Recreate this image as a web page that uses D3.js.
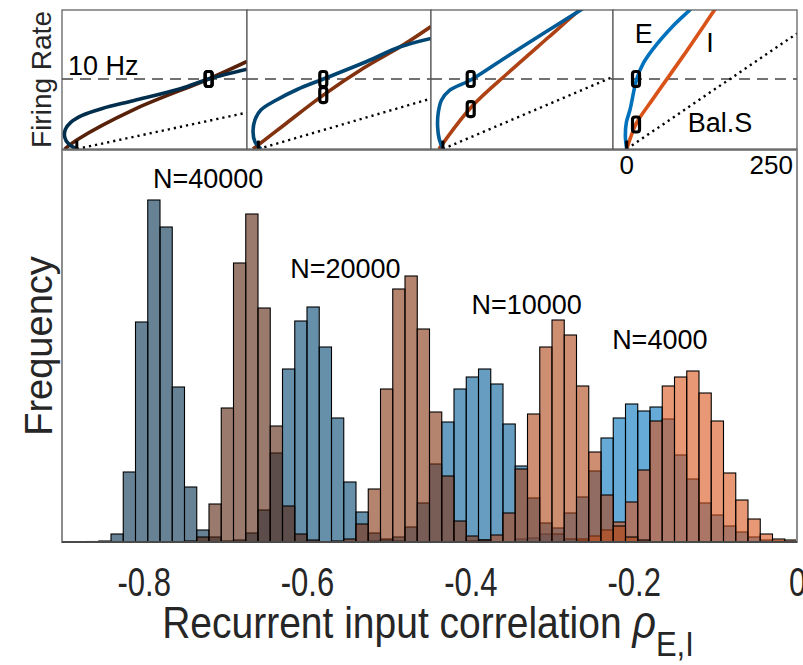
<!DOCTYPE html>
<html>
<head>
<meta charset="utf-8">
<script src="https://cdn.jsdelivr.net/npm/d3@7/dist/d3.min.js"></script>
<style>
  body { margin: 0; background: #fff; }
  text { font-family: "Liberation Sans", Arial, Helvetica, sans-serif; fill: #262626; }
</style>
</head>
<body>
<svg id="chart" width="803" height="665"></svg>
<script>

////////////////////////// DATA //////////////////////////

// histogram bins (left edges, width 0.015)
const binWidth = 0.015
const binLeft = [
  -0.9, -0.885, -0.87, -0.855, -0.84, -0.825, -0.81, -0.795, -0.78, -0.765,
  -0.75, -0.735, -0.72, -0.705, -0.69, -0.675, -0.66, -0.645, -0.63, -0.615,
  -0.6, -0.585, -0.57, -0.555, -0.54, -0.525, -0.51, -0.495, -0.48, -0.465,
  -0.45, -0.435, -0.42, -0.405, -0.39, -0.375, -0.36, -0.345, -0.33, -0.315,
  -0.3, -0.285, -0.27, -0.255, -0.24, -0.225, -0.21, -0.195, -0.18, -0.165,
  -0.15, -0.135, -0.12, -0.105, -0.09, -0.075, -0.06, -0.045, -0.03, -0.015
]

// counts per bin, E (blue) and I (orange) for each network size
const countE40000 = [
  0, 0, 0.5, 1, 8, 70, 220, 342, 315, 155,
  55, 12, 5, 1, 0, 0, 0, 0, 0, 0,
  0, 0, 0, 0, 0, 0, 0, 0, 0, 0,
  0, 0, 0, 0, 0, 0, 0, 0, 0, 0,
  0, 0, 0, 0, 0, 0, 0, 0, 0, 0,
  0, 0, 0, 0, 0, 0, 0, 0, 0, 0
]
const countI40000 = [
  0, 0, 0, 0, 0, 0, 0, 0, 0, 0,
  1, 5, 38, 134, 279, 328, 234, 116, 36, 8,
  2, 0, 0, 0, 0, 0, 0, 0, 0, 0,
  0, 0, 0, 0, 0, 0, 0, 0, 0, 0,
  0, 0, 0, 0, 0, 0, 0, 0, 0, 0,
  0, 0, 0, 0, 0, 0, 0, 0, 0, 0
]
const countE20000 = [
  0, 0, 0, 0, 0, 0, 0, 0, 0, 0,
  0, 0, 0, 0, 2, 9, 32, 89, 173, 221,
  235, 195, 124, 60, 30, 9, 3, 1, 0, 0,
  0, 0, 0, 0, 0, 0, 0, 0, 0, 0,
  0, 0, 0, 0, 0, 0, 0, 0, 0, 0,
  0, 0, 0, 0, 0, 0, 0, 0, 0, 0
]
const countI20000 = [
  0, 0, 0, 0, 0, 0, 0, 0, 0, 0,
  0, 0, 0, 0, 0, 0, 0, 0, 0, 0,
  0, 0, 1, 3, 18, 53, 153, 253, 266, 213,
  130, 66, 21, 6, 2, 0, 0, 0, 0, 0,
  0, 0, 0, 0, 0, 0, 0, 0, 0, 0,
  0, 0, 0, 0, 0, 0, 0, 0, 0, 0
]
const countE10000 = [
  0, 0, 0, 0, 0, 0, 0, 0, 0, 0,
  0, 0, 0, 0, 0, 0, 0, 0, 0, 0,
  0, 0, 0, 0, 0, 1, 2, 5, 15, 39,
  78, 120, 153, 165, 173, 158, 118, 76, 44, 19,
  8, 3, 1, 0, 0, 0, 0, 0, 0, 0,
  0, 0, 0, 0, 0, 0, 0, 0, 0, 0
]
const countI10000 = [
  0, 0, 0, 0, 0, 0, 0, 0, 0, 0,
  0, 0, 0, 0, 0, 0, 0, 0, 0, 0,
  0, 0, 0, 0, 0, 0, 0, 0, 0, 0,
  0, 0, 0, 1, 2, 7, 29, 73, 128, 195,
  222, 207, 156, 90, 47, 16, 5, 2, 0, 0,
  0, 0, 0, 0, 0, 0, 0, 0, 0, 0
]
const countE4000 = [
  0, 0, 0, 0, 0, 0, 0, 0, 0, 0,
  0, 0, 0, 0, 0, 0, 0, 0, 0, 0,
  0, 0, 0, 0, 0, 0, 0, 0, 0, 0,
  0, 0, 0, 0, 0, 0, 0, 3, 4, 8,
  14, 29, 45, 71, 104, 124, 138, 131, 135, 123,
  87, 63, 39, 27, 16, 10, 5, 2, 1, 0
]
const countI4000 = [
  0, 0, 0, 0, 0, 0, 0, 0, 0, 0,
  0, 0, 0, 0, 0, 0, 0, 0, 0, 0,
  0, 0, 0, 0, 0, 0, 0, 0, 0, 0,
  0, 0, 0, 0, 0, 0, 0, 0, 0, 0,
  0, 0, 3, 6, 12, 20, 40, 72, 121, 156,
  165, 171, 149, 121, 69, 42, 23, 8, 3, 2
]

// network sizes, label anchor (x in rho, y in counts)
const nLabels = ['N=40000', 'N=20000', 'N=10000', 'N=4000']
const nLabelX = [-0.721, -0.553, -0.331, -0.168]
const nLabelY = [354, 264, 228, 193]
const xTicks = [-0.8, -0.6, -0.4, -0.2, 0]

// inset curves: [input, firing rate in Hz], one panel per network size
const curveE1 = [[-3, 0], [-15, 0.7], [-21, 1.7], [-20, 2.8], [-12, 3.8], [5, 4.8], [35, 5.8], [81, 6.9], [151, 8.6], [193, 10], [250, 11.4]]
const curveI1 = [[-21, 0], [-3, 1.3], [81, 5.6], [193, 10], [250, 12.5]]
const curveE2 = [[-4, 0], [-13, 1], [-16, 2.5], [-13, 4.2], [-4, 5.6], [19, 7], [50, 8.5], [89, 10], [154, 12.5], [204, 14.6], [250, 15.8]]
const curveI2 = [[-16, 0], [30, 3.4], [89, 7.7], [150, 11.6], [204, 14.6], [250, 17.5]]
const curveE3 = [[-6.6, 0], [-12.5, 1.4], [-15, 3.2], [-14, 5.2], [-9, 7], [3.4, 8.4], [35.8, 9.9], [93, 13.4], [153, 17], [202, 19.9], [230, 21.5]]
const curveI3 = [[-13, 0], [36, 6], [93, 11], [153, 16], [200, 19.9], [230, 22.3]]
const curveE4 = [[-4.5, 0], [-6.5, 1.8], [-5, 3.8], [0.4, 5.6], [10.4, 10], [20, 12.2], [35, 14.3], [65, 17.6], [90, 19.9], [110, 22]]
const curveI4 = [[-4.5, 0], [1.5, 1.7], [10, 3.7], [35, 7.2], [80, 13.3], [127, 19.9], [140, 21.7]]
const balancedEnd = [5.2, 7.2, 10.3, 16.5]      // rate of balanced state at input 250
const balancedStart = [-3, -8, -7, -4.5]
const markerInput = [193, 89, 35, 9.4]
const markerRateE = [10, 10, 10, 10]
const markerRateI = [10, 7.7, 5.7, 3.5]

////////////////////////// SETUP //////////////////////////

const svg = d3.select('#chart')
svg.append('rect').attr('width', 803).attr('height', 665).attr('fill', '#fff')

const plotLeft = 62, plotRight = 797, plotBottom = 542, plotTop = 150

const xScale = d3.scaleLinear().domain([-0.9, 0]).range([plotLeft, plotRight])
const yScale = d3.scaleLinear().domain([0, 392]).range([plotBottom, plotTop])

// MATLAB default colours darkened per network size
const shade = (rgb, k) => d3.rgb(rgb[0] * k, rgb[1] * k, rgb[2] * k).formatHex()
const blueBase = [0, 114, 189]
const orangeBase = [217, 83, 25]
const sizeShade = [0.4, 0.6, 0.8, 1.0]

// draw order: small N first, E then I
const series = [
  { counts: countE4000, color: shade(blueBase, 1.0) },
  { counts: countI4000, color: shade(orangeBase, 1.0) },
  { counts: countE10000, color: shade(blueBase, 0.8) },
  { counts: countI10000, color: shade(orangeBase, 0.8) },
  { counts: countE20000, color: shade(blueBase, 0.6) },
  { counts: countI20000, color: shade(orangeBase, 0.6) },
  { counts: countE40000, color: shade(blueBase, 0.4) },
  { counts: countI40000, color: shade(orangeBase, 0.4) }
]

////////////////////////// HISTOGRAMS //////////////////////////

const main = svg.append('g')

series.forEach((s) => {
  const bars = binLeft.map((b, i) => ({ x0: b, value: s.counts[i] })).filter((d) => d.value > 0)
  main.append('g')
    .selectAll('rect')
    .data(bars)
    .enter()
    .append('rect')
    .attr('x', (d) => xScale(d.x0))
    .attr('y', (d) => yScale(d.value))
    .attr('width', (d) => xScale(d.x0 + binWidth) - xScale(d.x0))
    .attr('height', (d) => yScale(0) - yScale(d.value))
    .attr('fill', s.color)
    .attr('fill-opacity', 0.6)
    .attr('stroke', '#000')
    .attr('stroke-width', 1.1)
})

// frame
main.append('rect')
  .attr('x', plotLeft).attr('y', plotTop)
  .attr('width', plotRight - plotLeft).attr('height', plotBottom - plotTop)
  .attr('fill', 'none').attr('stroke', '#8c8c8c').attr('stroke-width', 2)
main.append('line')
  .attr('x1', plotLeft).attr('x2', plotRight).attr('y1', plotBottom).attr('y2', plotBottom)
  .attr('stroke', '#333').attr('stroke-width', 1.5)

// x axis (tall, condensed looking tick labels)
const xAxis = d3.axisBottom(xScale).tickValues(xTicks).tickSize(0).tickFormat((d) => String(d))
main.append('g')
  .attr('transform', `translate(0,${plotBottom})`)
  .call(xAxis)
  .call((g) => g.select('.domain').remove())
  .selectAll('text')
    .attr('y', 0)
    .attr('dy', null)
    .attr('transform', 'translate(0,54) scale(1,1.3)')
    .style('font-size', '31px')
    .style('fill', '#262626')

// N labels
main.selectAll('.n-label')
  .data(nLabels)
  .enter()
  .append('text')
  .attr('class', 'n-label')
  .attr('x', (d, i) => xScale(nLabelX[i]))
  .attr('y', (d, i) => yScale(nLabelY[i]))
  .attr('text-anchor', 'middle')
  .style('font-size', '27px')
  .style('fill', '#000')
  .text((d) => d)

// axis labels
svg.append('text')
  .attr('transform', `translate(52,${(plotTop + plotBottom) / 2}) rotate(-90)`)
  .attr('text-anchor', 'middle')
  .style('font-size', '38px')
  .text('Frequency')

const xLabel = svg.append('text')
  .attr('transform', 'translate(428,638) scale(1,1.15)')
  .attr('text-anchor', 'middle')
  .style('font-size', '39px')
xLabel.append('tspan').text('Recurrent input correlation ')
xLabel.append('tspan').style('font-style', 'italic').style('font-size', '41px').text('ρ')
xLabel.append('tspan').attr('dy', 16).style('font-size', '31px').text('E,I')

////////////////////////// INSETS //////////////////////////

const panelEdges = [62, 247, 431, 613, 797]
const curvesE = [curveE1, curveE2, curveE3, curveE4]
const curvesI = [curveI1, curveI2, curveI3, curveI4]
const rateY = d3.scaleLinear().domain([0, 20]).range([149, 9])
const insetTop = 10

const line = (xs) => d3.line().x((d) => xs(d[0])).y((d) => rateY(d[1])).curve(d3.curveCatmullRom.alpha(0.5))

panelEdges.slice(0, 4).forEach((x0, i) => {
  const x1 = panelEdges[i + 1]
  const xs = d3.scaleLinear().domain([-25, 250]).range([x0, x1])
  const g = svg.append('g')

  g.append('rect')
    .attr('x', x0).attr('y', insetTop)
    .attr('width', x1 - x0).attr('height', rateY(0) - insetTop)
    .attr('fill', '#fff')

  const clipId = `clip-${i}`
  g.append('clipPath').attr('id', clipId)
    .append('rect')
    .attr('x', x0).attr('y', insetTop)
    .attr('width', x1 - x0).attr('height', rateY(0) - insetTop)

  const body = g.append('g').attr('clip-path', `url(#${clipId})`)

  // 10 Hz reference
  body.append('line')
    .attr('x1', xs(-25)).attr('x2', xs(250))
    .attr('y1', rateY(10)).attr('y2', rateY(10))
    .attr('stroke', '#444').attr('stroke-width', 1.4)
    .attr('stroke-dasharray', '11,7')

  // balanced state
  body.append('path')
    .attr('d', line(xs)([[balancedStart[i], 0], [250, balancedEnd[i]]]))
    .attr('fill', 'none').attr('stroke', '#000')
    .attr('stroke-width', 2.4).attr('stroke-dasharray', '2.2,4')

  body.append('path')
    .attr('d', line(xs)(curvesI[i]))
    .attr('fill', 'none').attr('stroke', shade(orangeBase, sizeShade[i]))
    .attr('stroke-width', 3.6)

  body.append('path')
    .attr('d', line(xs)(curvesE[i]))
    .attr('fill', 'none').attr('stroke', shade(blueBase, sizeShade[i]))
    .attr('stroke-width', 3.6)

  // operating point markers
  const marks = [[markerInput[i], markerRateE[i]], [markerInput[i], markerRateI[i]]]
  body.selectAll('.op')
    .data(marks)
    .enter()
    .append('rect')
    .attr('x', (d) => xs(d[0]) - 3.5)
    .attr('y', (d) => rateY(d[1]) - 7.5)
    .attr('width', 7).attr('height', 15).attr('rx', 2.5)
    .attr('fill', 'none').attr('stroke', '#000').attr('stroke-width', 3.2)

  body.append('rect')
    .attr('x', xs(balancedStart[i]) - 1.5)
    .attr('y', rateY(1.2))
    .attr('width', 3).attr('height', rateY(0) - rateY(1.2))
    .attr('fill', '#000')

  g.append('rect')
    .attr('x', x0).attr('y', insetTop)
    .attr('width', x1 - x0).attr('height', rateY(0) - insetTop)
    .attr('fill', 'none').attr('stroke', '#555').attr('stroke-width', 1.2)

  if (i === 0) {
    g.append('text')
      .attr('x', xs(-16)).attr('y', rateY(10.6))
      .style('font-size', '27px').style('fill', '#000')
      .text('10 Hz')
  }
  if (i === 3) {
    g.append('text').attr('x', xs(21)).attr('y', rateY(15.1))
      .attr('text-anchor', 'middle').style('font-size', '27px').style('fill', '#000').text('E')
    g.append('text').attr('x', xs(120)).attr('y', rateY(13.9))
      .attr('text-anchor', 'middle').style('font-size', '27px').style('fill', '#000').text('I')
    g.append('text').attr('x', xs(135)).attr('y', rateY(2.4))
      .attr('text-anchor', 'middle').style('font-size', '27px').style('fill', '#000').text('Bal.S')
    g.append('text').attr('x', xs(0) - 3).attr('y', 174)
      .attr('text-anchor', 'middle').style('font-size', '26px').style('fill', '#000').text('0')
    g.append('text').attr('x', xs(250) - 4).attr('y', 174)
      .attr('text-anchor', 'end').style('font-size', '26px').style('fill', '#000').text('250')
  }
})

// firing rate label
svg.append('text')
  .attr('transform', `translate(51,${(insetTop + rateY(0)) / 2}) rotate(-90)`)
  .attr('text-anchor', 'middle')
  .style('font-size', '28px')
  .text('Firing Rate')

</script>
</body>
</html>
